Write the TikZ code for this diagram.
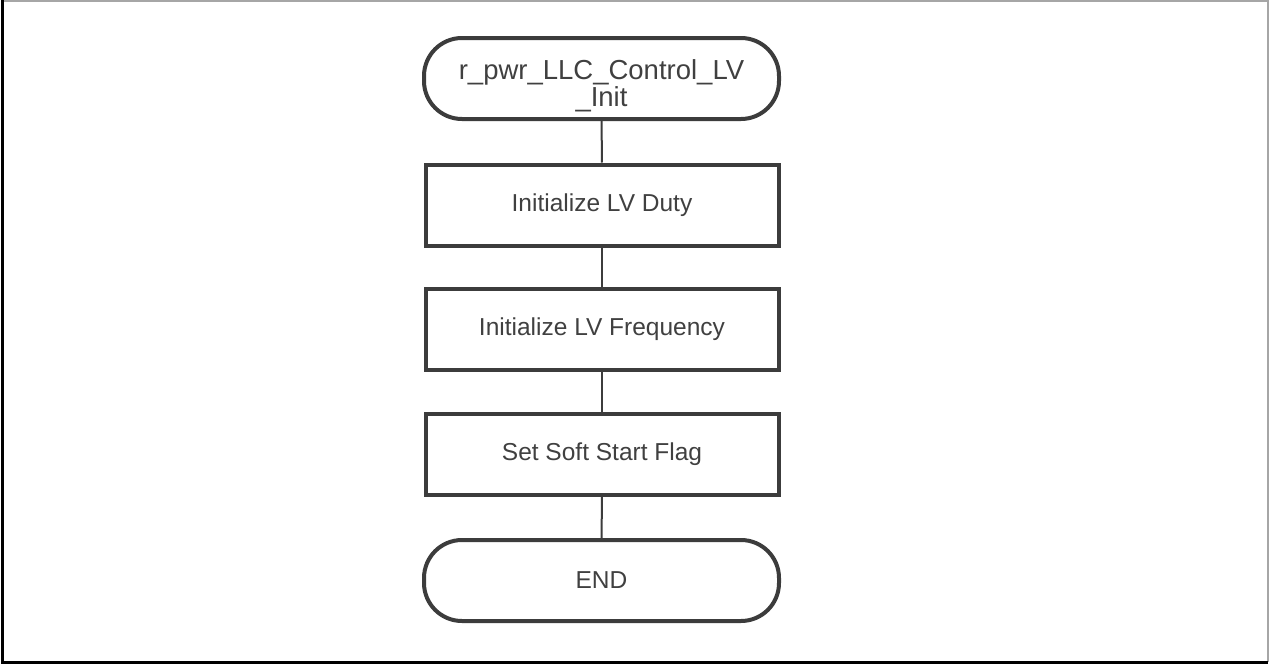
\documentclass[tikz,border=0pt]{standalone}
\usepackage{fontspec}
\setmainfont{Liberation Sans}
\definecolor{ln}{HTML}{3C3C3C}
\definecolor{tx}{HTML}{404040}
\begin{document}
\begin{tikzpicture}[x=1pt,y=-1pt,
  stepbox/.style={draw=ln,line width=4pt,minimum width=353pt,minimum height=81pt,inner sep=0pt,text=tx,font=\fontsize{24.5}{28}\selectfont,align=center},
  term/.style={stepbox,rounded corners=38pt,minimum width=355pt},
  conn/.style={draw=ln,line width=2pt}]
\useasboundingbox (0,0) rectangle (1270,664);
\fill[white] (0,0) rectangle (1270,664);
\draw[gray!70,line width=2pt] (2,1) -- (1268,1) -- (1268,662);
\draw[black,line width=3pt] (2.5,0) -- (2.5,662.5) -- (1268,662.5);
\node[term] (start) at (601.5,78.5) {};
\node[text=tx,font=\fontsize{27.5}{27}\selectfont,align=center,inner sep=0pt,anchor=base] (starttext) at (601.5,106) {r\_pwr\_LLC\_Control\_LV\\\_Init};
\node[stepbox] (s1) at (602,205) {Initialize LV Duty};
\node[stepbox] (s2) at (602,329.5) {Initialize LV Frequency};
\node[stepbox] (s3) at (602,454.5) {Set Soft Start Flag};
\node[term] (end) at (601.5,580.5) {END};
\draw[conn] (start) -- (s1);
\draw[conn] (s1) -- (s2);
\draw[conn] (s2) -- (s3);
\draw[conn] (s3) -- (end);
\end{tikzpicture}
\end{document}
